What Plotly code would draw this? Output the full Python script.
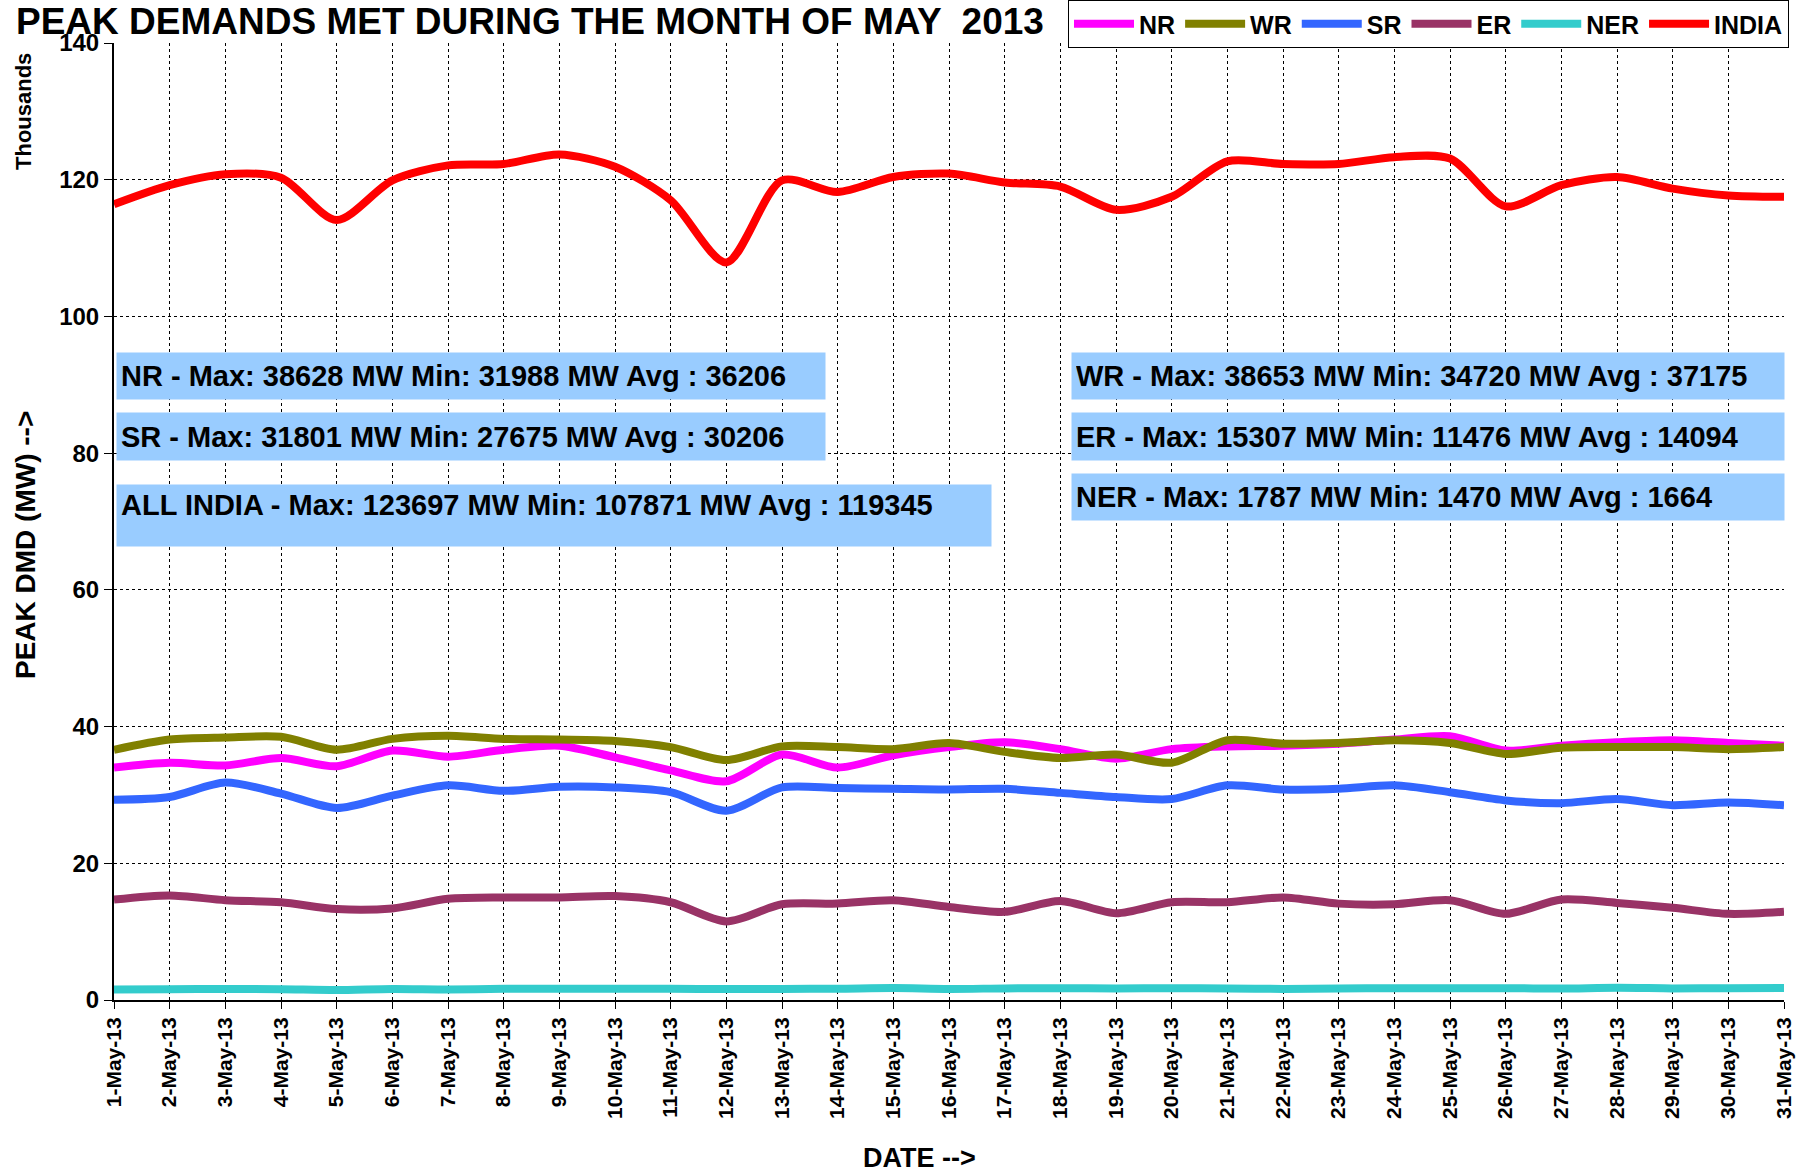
import plotly.graph_objects as go

dates = [f"{d}-May-13" for d in range(1, 32)]

# values in thousands of MW
nr = [34.0, 34.7, 34.3, 35.4, 34.2, 36.5, 35.6, 36.6, 37.2, 35.5,
      33.6, 32.0, 35.9, 34.0, 35.8, 37.0, 37.7, 36.7, 35.3, 36.7,
      37.1, 37.2, 37.5, 38.1, 38.6, 36.5, 37.2, 37.7, 38.0, 37.6, 37.2]
wr = [36.6, 38.1, 38.4, 38.5, 36.6, 38.2, 38.65, 38.2, 38.1, 37.9,
      37.0, 35.1, 37.1, 37.0, 36.7, 37.6, 36.3, 35.4, 35.9, 34.72,
      38.0, 37.5, 37.6, 38.0, 37.6, 36.0, 36.9, 37.0, 37.0, 36.7, 37.0]
sr = [29.3, 29.7, 31.8, 30.2, 28.1, 29.9, 31.4, 30.6, 31.2, 31.1,
      30.4, 27.7, 31.1, 31.0, 30.9, 30.8, 30.9, 30.3, 29.7, 29.4,
      31.4, 30.8, 30.9, 31.4, 30.4, 29.2, 28.8, 29.4, 28.5, 28.9, 28.5]
er = [14.7, 15.3, 14.6, 14.3, 13.3, 13.4, 14.8, 15.0, 15.0, 15.2,
      14.3, 11.5, 14.0, 14.1, 14.6, 13.6, 12.9, 14.5, 12.7, 14.3,
      14.3, 15.0, 14.1, 14.0, 14.6, 12.6, 14.7, 14.2, 13.5, 12.6, 12.9]
ner = [1.55, 1.58, 1.60, 1.58, 1.47, 1.62, 1.55, 1.63, 1.65, 1.66,
       1.65, 1.60, 1.62, 1.65, 1.75, 1.62, 1.70, 1.72, 1.70, 1.72,
       1.70, 1.62, 1.68, 1.72, 1.72, 1.72, 1.68, 1.79, 1.70, 1.72, 1.74]
india = [116.4, 119.2, 120.8, 120.3, 114.1, 119.9, 122.1, 122.3, 123.7, 121.9,
         117.0, 107.9, 119.9, 118.2, 120.4, 120.9, 119.6, 119.0, 115.6, 117.5,
         122.7, 122.3, 122.3, 123.3, 123.1, 116.1, 119.2, 120.4, 118.7, 117.7, 117.5]

series_names = ["NR", "WR", "SR", "ER", "NER", "INDIA"]
series_vals = [nr, wr, sr, er, ner, india]
series_colors = ["#FF00FF", "#808000", "#3366FF", "#993366", "#33CCCC", "#FF0000"]

info_left = ["NR - Max: 38628 MW Min: 31988 MW Avg : 36206",
             "SR - Max: 31801 MW Min: 27675 MW Avg : 30206",
             "ALL INDIA - Max: 123697 MW Min: 107871 MW Avg : 119345"]
info_right = ["WR - Max: 38653 MW Min: 34720 MW Avg : 37175",
              "ER - Max: 15307 MW Min: 11476 MW Avg : 14094",
              "NER - Max: 1787 MW Min: 1470 MW Avg : 1664"]

FONT = "Liberation Sans, Arial, sans-serif"
OFF = 0  # body margin removed via post_script
W, H = 1808 - OFF, 1176 - OFF
# plot area in page pixels: left 114, right 1784, top 43, bottom 1000
L, T = 114 - OFF, 43 - OFF
R = W - (1784 - OFF)
B = H - (1000 - OFF)
PW, PH = W - L - R, H - T - B

def px_x(x):  # page px -> paper
    return (x - OFF - L) / PW

def px_y(y):
    return 1 - (y - OFF - T) / PH

fig = go.Figure()
for name, vals, col in zip(series_names, series_vals, series_colors):
    fig.add_trace(go.Scatter(
        x=dates, y=vals, mode="lines", name=name,
        line=dict(color=col, width=8, shape="spline", smoothing=0.8),
    ))

annotations = []
# title
annotations.append(dict(text="<b>PEAK DEMANDS MET DURING THE MONTH OF MAY  2013</b>",
                        xref="paper", yref="paper", x=px_x(15), y=px_y(0),
                        xanchor="left", yanchor="top", showarrow=False, borderpad=0,
                        font=dict(family=FONT, size=37, color="black")))
# axis titles
annotations.append(dict(text="<b>PEAK DMD (MW) --></b>", xref="paper", yref="paper",
                        x=px_x(25), y=px_y(545), textangle=-90, showarrow=False,
                        xanchor="center", yanchor="middle",
                        font=dict(family=FONT, size=28, color="black")))
annotations.append(dict(text="<b>Thousands</b>", xref="paper", yref="paper",
                        x=px_x(23), y=px_y(112), textangle=-90, showarrow=False,
                        xanchor="center", yanchor="middle",
                        font=dict(family=FONT, size=22, color="black")))
annotations.append(dict(text="<b>DATE --></b>", xref="paper", yref="paper",
                        x=px_x(919), y=px_y(1158), showarrow=False,
                        xanchor="center", yanchor="middle",
                        font=dict(family=FONT, size=27, color="black")))

# info boxes: (text, left px, top px, width px, height px, valign)
boxes = [
    (info_left[0], 116, 352, 708, 46, "middle"),
    (info_left[1], 116, 412, 708, 47, "middle"),
    (info_left[2], 116, 484, 874, 61, "top"),
    (info_right[0], 1071, 352, 712, 46, "middle"),
    (info_right[1], 1071, 412, 712, 47, "middle"),
    (info_right[2], 1071, 473, 712, 46, "middle"),
]
for txt, bx, by, bw, bh, va in boxes:
    pad = 4
    annotations.append(dict(text=f"<b>{txt}</b>", xref="paper", yref="paper",
                            x=px_x(bx), y=px_y(by), xanchor="left", yanchor="top",
                            width=bw - 2 * pad, height=bh - 2 * pad, align="left",
                            valign=va, borderpad=pad, bgcolor="#99CCFF",
                            showarrow=False,
                            font=dict(family=FONT, size=29, color="black")))

fig.update_layout(
    width=W, height=H,
    margin=dict(l=L, r=R, t=T, b=B, autoexpand=False),
    paper_bgcolor="white", plot_bgcolor="white",
    font=dict(family=FONT, color="black"),
    showlegend=True,
    legend=dict(orientation="h", x=px_x(1068), y=px_y(0), xanchor="left", yanchor="top",
                bordercolor="black", borderwidth=1, bgcolor="white",
                font=dict(family=FONT, size=25, color="black", weight="bold"),
                itemwidth=60, tracegroupgap=0),
    annotations=annotations,
)
fig.update_xaxes(
    type="category", range=[0, len(dates) - 1], automargin=False,
    tickangle=-90, tickfont=dict(family=FONT, size=21, color="black", weight="bold"),
    showgrid=True, gridcolor="black", griddash="dot", gridwidth=1,
    showline=True, linecolor="black", linewidth=2,
    ticks="outside", ticklen=7, tickcolor="black",
)
fig.update_yaxes(
    range=[0, 140], dtick=20, tick0=0, automargin=False,
    tickfont=dict(family=FONT, size=24, color="black", weight="bold"),
    showgrid=True, gridcolor="black", griddash="dot", gridwidth=1,
    showline=True, linecolor="black", linewidth=2,
    ticks="outside", ticklen=8, tickcolor="black", zeroline=False,
)
fig.write_html("out.html", config={"displayModeBar": False},
               post_script="document.body.style.margin='0';")
